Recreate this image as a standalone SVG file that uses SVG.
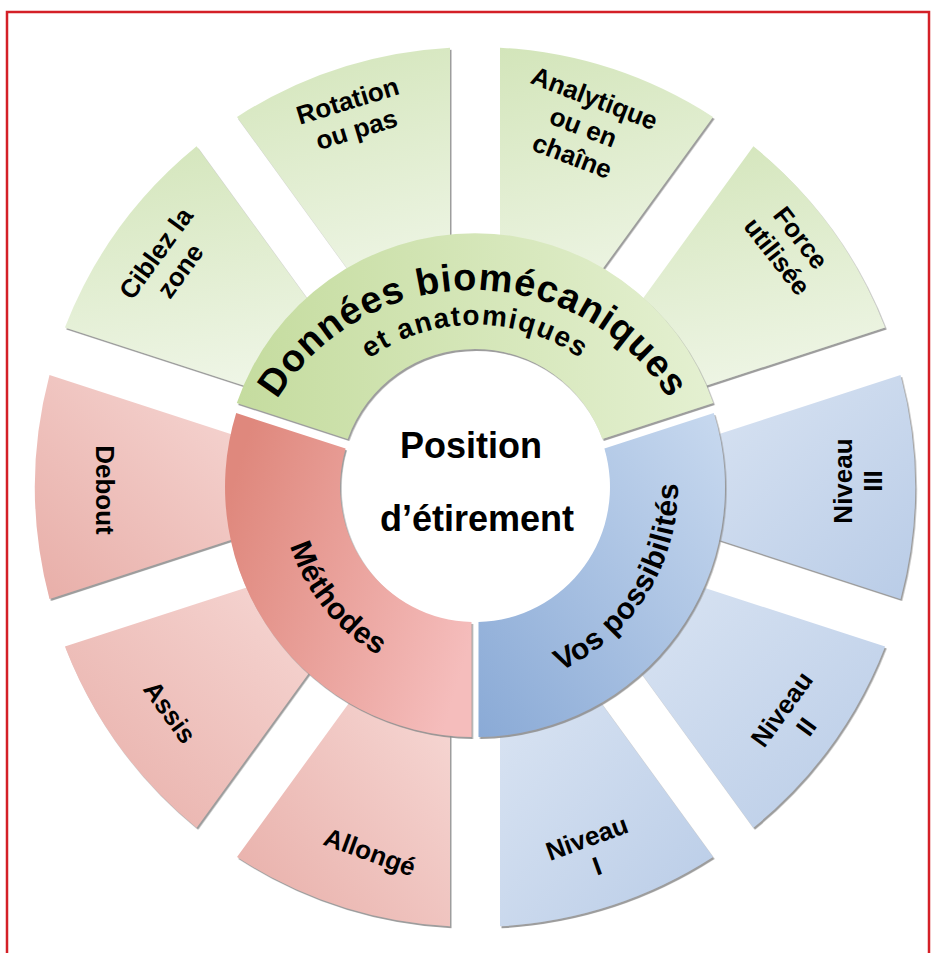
<svg xmlns="http://www.w3.org/2000/svg" xmlns:xlink="http://www.w3.org/1999/xlink" width="932" height="953" viewBox="0 0 932 953">
<style>
  .t { font-family: "Liberation Sans", Arial, sans-serif; font-weight: bold; fill: #000; }
  .out { font-size: 26px; text-anchor: middle; }
  .center { font-size: 36px; text-anchor: middle; }
  .seg { filter: url(#sh); }
</style>
<defs>
  <filter id="sh" x="-10%" y="-10%" width="120%" height="120%">
    <feDropShadow dx="1.5" dy="2" stdDeviation="0.7" flood-color="#8c8c8c" flood-opacity="0.85"/>
  </filter>
  <linearGradient id="gRing" x1="0" y1="0.5" x2="1" y2="0.5">
    <stop offset="0" stop-color="#c5dc9f"/>
    <stop offset="1" stop-color="#e4f0d1"/>
  </linearGradient>
  <linearGradient id="rRing" x1="0" y1="0.3" x2="1" y2="0.7">
    <stop offset="0" stop-color="#df887d"/>
    <stop offset="1" stop-color="#f5bdbc"/>
  </linearGradient>
  <linearGradient id="bRing" x1="0" y1="1" x2="1" y2="0">
    <stop offset="0" stop-color="#8aaad6"/>
    <stop offset="1" stop-color="#c8d9ef"/>
  </linearGradient>
  <linearGradient id="gOut" x1="0" y1="0" x2="0.2" y2="1">
    <stop offset="0" stop-color="#d3e5ba"/>
    <stop offset="1" stop-color="#eef5e5"/>
  </linearGradient>
  <linearGradient id="rOut" x1="0" y1="1" x2="1" y2="0">
    <stop offset="0" stop-color="#e8aea8"/>
    <stop offset="1" stop-color="#f7dad7"/>
  </linearGradient>
  <linearGradient id="bOut" x1="0" y1="0" x2="1" y2="1">
    <stop offset="0" stop-color="#dbe5f3"/>
    <stop offset="1" stop-color="#b9cce7"/>
  </linearGradient>
  <path id="pDon" d="M 246.5 480.1 A 230 230 0 0 1 699.5 480.1"/>
  <path id="pEt" d="M 296.7 474.6 A 181 181 0 0 1 653.3 474.6"/>
  <path id="pMet" d="M 292.7 420.6 A 194 194 0 0 0 502.0 679.1"/>
  <path id="pVos" d="M 467.9 689.9 A 203 203 0 0 0 654.2 391.7"/>
</defs>

<rect x="0" y="0" width="932" height="953" fill="#ffffff"/>
<path d="M 7 953 V 12 H 929 V 953" fill="none" stroke="#d42027" stroke-width="2.5"/>

<g id="outer-segments">
  <g id="seg-ciblez">
    <path class="seg" fill="url(#gOut)" d="M 64.9 327.5 A 440 440 0 0 1 196.6 146.3 L 338.1 341.2 A 200 200 0 0 0 294.0 401.9 Z"/>
    <text class="t out" transform="translate(168,262) rotate(-54)"><tspan x="0" y="-6">Ciblez la</tspan><tspan x="0" y="24">zone</tspan></text>
  </g>
  <g id="seg-rotation">
    <path class="seg" fill="url(#gOut)" d="M 237.0 116.9 A 440 440 0 0 1 450.0 47.7 L 450.0 288.6 A 200 200 0 0 0 378.6 311.8 Z"/>
    <text class="t out" transform="translate(352,115) rotate(-17)"><tspan x="0" y="-6">Rotation</tspan><tspan x="0" y="24">ou pas</tspan></text>
  </g>
  <g id="seg-analytique">
    <path class="seg" fill="url(#gOut)" d="M 500.0 47.7 A 440 440 0 0 1 713.0 116.9 L 571.4 311.8 A 200 200 0 0 0 500.0 288.6 Z"/>
    <text class="t out" transform="translate(583,128) rotate(21)"><tspan x="0" y="-23">Analytique</tspan><tspan x="0" y="8">ou en</tspan><tspan x="0" y="39">chaîne</tspan></text>
  </g>
  <g id="seg-force">
    <path class="seg" fill="url(#gOut)" d="M 753.4 146.3 A 440 440 0 0 1 885.1 327.5 L 656.0 401.9 A 200 200 0 0 0 611.9 341.2 Z"/>
    <text class="t out" transform="translate(789,247) rotate(52)"><tspan x="0" y="-6">Force</tspan><tspan x="0" y="24">utilisée</tspan></text>
  </g>
  <g id="seg-niveau3">
    <path class="seg" fill="url(#bOut)" d="M 900.5 375.0 A 440 440 0 0 1 900.5 599.0 L 671.4 524.5 A 200 200 0 0 0 671.4 449.5 Z"/>
    <text class="t out" transform="translate(858,481) rotate(-90)"><tspan x="0" y="-6">Niveau</tspan><tspan x="0" y="24">III</tspan></text>
  </g>
  <g id="seg-niveau2">
    <path class="seg" fill="url(#bOut)" d="M 885.1 646.5 A 440 440 0 0 1 753.4 827.7 L 611.9 632.8 A 200 200 0 0 0 656.0 572.1 Z"/>
    <text class="t out" transform="translate(794,718) rotate(-54)"><tspan x="0" y="-6">Niveau</tspan><tspan x="0" y="24">II</tspan></text>
  </g>
  <g id="seg-niveau1">
    <path class="seg" fill="url(#bOut)" d="M 713.0 857.1 A 440 440 0 0 1 500.0 926.3 L 500.0 685.4 A 200 200 0 0 0 571.4 662.2 Z"/>
    <text class="t out" transform="translate(592,852) rotate(-20)"><tspan x="0" y="-6">Niveau</tspan><tspan x="0" y="24">I</tspan></text>
  </g>
  <g id="seg-allonge">
    <path class="seg" fill="url(#rOut)" d="M 450.0 926.3 A 440 440 0 0 1 237.0 857.1 L 378.6 662.2 A 200 200 0 0 0 450.0 685.4 Z"/>
    <text class="t out" transform="translate(370,852) rotate(20)"><tspan x="0" y="9">Allongé</tspan></text>
  </g>
  <g id="seg-assis">
    <path class="seg" fill="url(#rOut)" d="M 196.6 827.7 A 440 440 0 0 1 64.9 646.5 L 294.0 572.1 A 200 200 0 0 0 338.1 632.8 Z"/>
    <text class="t out" transform="translate(170,712) rotate(54)"><tspan x="0" y="9">Assis</tspan></text>
  </g>
  <g id="seg-debout">
    <path class="seg" fill="url(#rOut)" d="M 49.5 599.0 A 440 440 0 0 1 49.5 375.0 L 278.6 449.5 A 200 200 0 0 0 278.6 524.5 Z"/>
    <text class="t out" transform="translate(105,490) rotate(90)"><tspan x="0" y="9">Debout</tspan></text>
  </g>
</g>

<g id="ring">
  <g id="node-donnees">
    <path class="seg" fill="url(#gRing)" transform="translate(0,-3)" d="M 236.8 405.9 A 252 252 0 0 1 713.2 405.9 L 602.3 442.0 A 135 135 0 0 0 347.7 442.0 Z"/>
    <text class="t" font-size="38" letter-spacing="1" text-anchor="middle"><textPath xlink:href="#pDon" href="#pDon" startOffset="50%">Données biomécaniques</textPath></text>
    <text class="t" font-size="28" letter-spacing="1.5" text-anchor="middle"><textPath xlink:href="#pEt" href="#pEt" startOffset="50%">et anatomiques</textPath></text>
  </g>
  <g id="node-methodes">
    <path class="seg" fill="url(#rRing)" d="M 471.5 737.0 A 250 250 0 0 1 236.2 413.1 L 345.6 448.6 A 135 135 0 0 0 471.5 622.0 Z"/>
    <text class="t" font-size="30" letter-spacing="0.5" text-anchor="middle"><textPath xlink:href="#pMet" href="#pMet" startOffset="50%">Méthodes</textPath></text>
  </g>
  <g id="node-vos">
    <path class="seg" fill="url(#bRing)" d="M 713.8 413.1 A 250 250 0 0 1 478.5 737.0 L 478.5 622.0 A 135 135 0 0 0 604.4 448.6 Z"/>
    <text class="t" font-size="30" letter-spacing="0.5" text-anchor="middle"><textPath xlink:href="#pVos" href="#pVos" startOffset="50%">Vos possibilités</textPath></text>
  </g>
</g>

<g id="node-center">
  <circle cx="475" cy="487" r="133" fill="#ffffff"/>
  <text class="t center" x="471" y="458">Position</text>
  <text class="t center" x="477" y="531">d’étirement</text>
</g>

<g id="connectors"></g>
</svg>
